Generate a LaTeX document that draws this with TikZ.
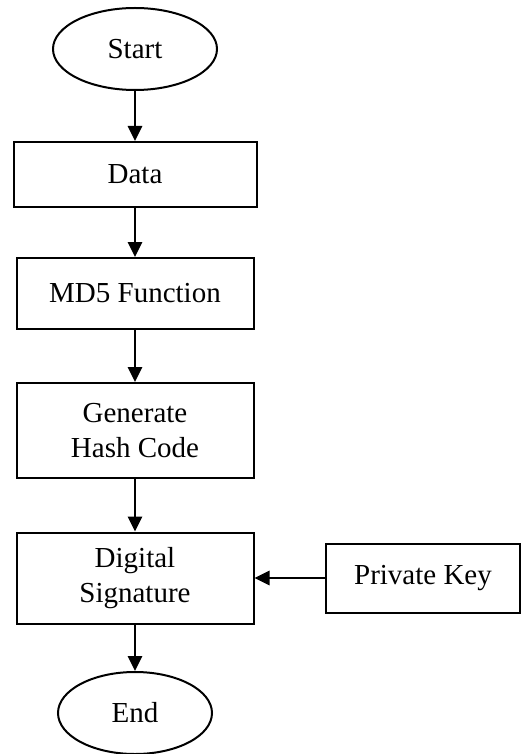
\documentclass[tikz,border=0pt]{standalone}
\usepackage{fontspec}
\setmainfont{Liberation Serif}
\usetikzlibrary{arrows.meta, shapes.geometric}

\begin{document}
\begin{tikzpicture}[x=0.5pt, y=-0.5pt,
  box/.style={draw, line width=1pt, inner sep=0pt, align=center,
    font=\fontsize{14.5}{17.5}\selectfont},
  term/.style={box, ellipse},
  flow/.style={-{Triangle[width=7pt,length=7.5pt]}, line width=1.4pt}]
\useasboundingbox (0,0) rectangle (521,754);
\node[term, minimum width=82pt, minimum height=41pt](start) at (135,49) {Start};
\node[box, minimum width=121.5pt, minimum height=32.5pt](data) at (135,174.5) {Data};
\node[box, minimum width=118.5pt, minimum height=35.5pt](md5) at (135,293.5) {MD5 Function};
\node[box, minimum width=118.5pt, minimum height=47.5pt](hash) at (135,430.5) {Generate\\Hash Code};
\node[box, minimum width=118.5pt, minimum height=45.5pt](sign) at (135,578) {Digital\\Signature};
\node[box, minimum width=97pt, minimum height=34.5pt](key) at (423,578) {Private Key};
\node[term, minimum width=77pt, minimum height=41pt](end) at (135,713) {End};
%
\draw[flow](start) -- (data);
\draw[flow](data) -- (md5);
\draw[flow](md5) -- (hash);
\draw[flow](hash) -- (sign);
\draw[flow](sign) -- (end);
\draw[flow](key) -- (sign);
\end{tikzpicture}
\end{document}
